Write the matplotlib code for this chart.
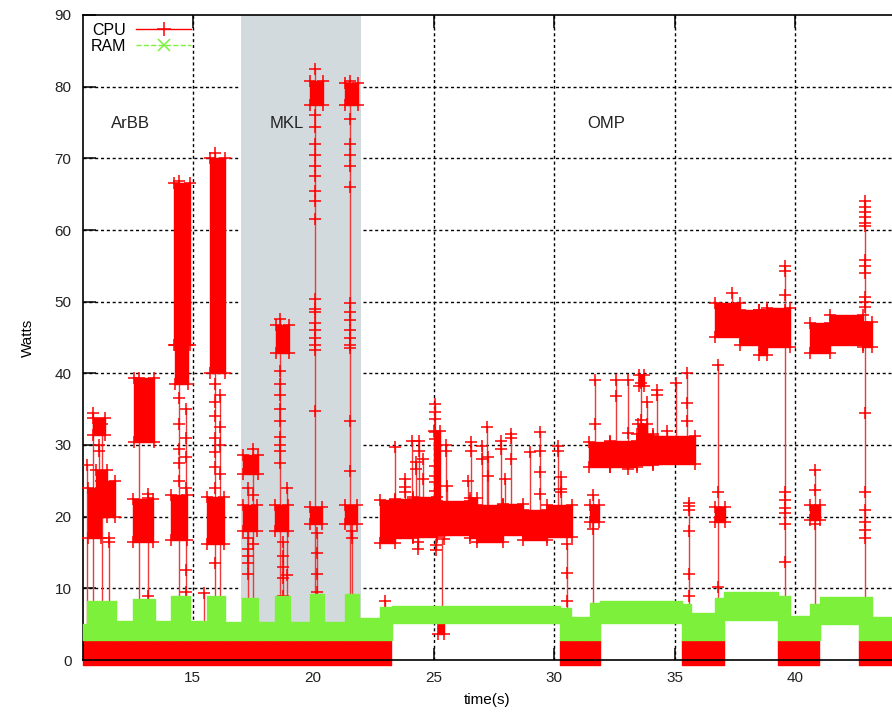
import matplotlib
matplotlib.use('Agg')
import matplotlib.pyplot as plt
from matplotlib.lines import Line2D

plt.rcParams['font.family'] = ['Liberation Sans', 'DejaVu Sans']

# ---------------- data ----------------
# CPU idle periods: (t_start, t_end, low W, high W)
cpu_idle = [
    (10.42, 23.22, -0.7, 2.8),
    (30.24, 31.92, -0.7, 2.8),
    (35.33, 37.05, -0.7, 2.8),
    (39.30, 41.00, -0.7, 2.8),
    (42.65, 44.10, -0.7, 2.8),
]
# CPU short bursts (ArBB / MKL): dense noisy blocks (t_start, t_end, low, high)
cpu_bursts = [
    (10.65, 11.20, 17.0, 24.0), (11.00, 11.45, 20.0, 26.5), (11.20, 11.76, 20.0, 25.0),
    (10.87, 11.35, 31.4, 33.7),
    (12.55, 13.40, 30.4, 39.4), (12.50, 13.35, 16.5, 22.5),
    (14.20, 14.88, 44.0, 66.5), (14.25, 14.80, 38.5, 44.0), (14.10, 14.75, 16.8, 23.0),
    (15.70, 16.33, 40.0, 70.0), (15.60, 16.30, 16.2, 22.8),
    (17.10, 17.70, 26.0, 28.6), (17.08, 17.65, 18.0, 21.6),
    (18.45, 19.00, 42.8, 46.8), (18.40, 18.95, 18.0, 21.6),
    (19.88, 20.40, 77.5, 80.8), (19.88, 20.38, 19.0, 21.4),
    (21.33, 21.85, 77.5, 80.5), (21.31, 21.82, 19.0, 21.6),
]
# CPU long phases (OMP): noisy band pieces (t_start, t_end, low, high)
cpu_phases = [
    (22.77, 23.40, 16.3, 22.3), (23.40, 24.15, 17.0, 22.5), (24.15, 25.12, 17.2, 22.7),
    (25.12, 26.50, 17.5, 22.2), (26.50, 26.78, 17.0, 22.6), (26.78, 27.89, 16.4, 21.6),
    (27.89, 28.72, 17.4, 21.8), (28.72, 29.69, 16.8, 20.9), (29.69, 30.73, 17.2, 21.6),
    (25.00, 25.25, 22.0, 32.0), (25.20, 25.45, 3.6, 5.2),
    (31.50, 31.88, 19.2, 21.6),
    (31.46, 32.32, 27.0, 30.4), (32.32, 33.43, 26.9, 30.6), (33.43, 34.12, 27.2, 31.5),
    (34.12, 35.85, 27.3, 31.2), (33.50, 33.85, 29.5, 33.0), (33.52, 33.72, 38.2, 39.8),
    (36.68, 37.10, 19.3, 21.4),
    (36.68, 37.72, 45.1, 49.8), (37.72, 38.50, 44.0, 48.8), (38.50, 38.82, 42.6, 48.8),
    (38.82, 39.80, 43.7, 49.1),
    (40.62, 41.04, 19.5, 21.6),
    (40.62, 41.45, 42.8, 47.0), (41.45, 42.84, 44.0, 48.1), (42.84, 43.18, 43.7, 47.2),
]
# CPU spikes: (time, line base W, [marker values W])
cpu_spikes = [
    (10.62, 3, [27.2]), (10.86, 3, [34.4]), (11.25, 3, [33.0]), (11.52, 3, [17.0, 16.5]),
    (11.10, 24, [30.0, 29.2]),
    (12.77, 3, [39.4]), (13.14, 3, [23.2, 22.6, 9.0]),
    (14.42, 3, [66.8, 36.5, 33.0, 29.5, 27.5, 25.0]),
    (14.71, 3, [35.0, 31.0, 28.3, 24.0, 12.6, 9.5]), (15.45, 3, [9.3]),
    (15.91, 3, [70.7, 38.5, 36.0, 34.0, 31.0, 29.0, 27.0, 24.0, 13.5]),
    (16.12, 3, [37.0, 32.5, 30.0, 26.0]),
    (17.30, 3, [24.0, 17.0, 15.5, 14.5, 13.6, 12.0]), (17.50, 3, [29.4, 23.0, 16.2]),
    (18.61, 3, [47.6, 40.3, 38.5, 37.0, 35.0, 33.4, 31.1, 30.0, 29.2, 27.5]),
    (18.75, 3, [16.5, 14.5, 13.0, 11.5, 9.0]), (18.90, 9, [24.0, 11.8]),
    (20.07, 3, [82.5, 76.0, 74.4, 72.0, 70.5, 69.0, 67.5, 65.5, 64.0, 61.6,
                50.4, 49.0, 48.5, 47.0, 46.0, 45.0, 44.0, 43.2, 34.7]),
    (20.16, 3, [17.7, 15.0, 12.0, 9.5]),
    (21.52, 3, [80.8, 75.5, 72.0, 70.5, 69.0, 66.0, 49.8, 48.5, 47.5, 46.0,
                45.0, 44.0, 43.6, 33.4, 26.4]),
    (21.63, 3, [18.0, 17.0]),
    (22.97, 3, [8.3]), (23.39, 21, [29.7]), (23.80, 21, [25.3, 24.2, 23.4]),
    (24.10, 21, [30.6]), (24.25, 21, [26.6, 27.6]), (24.40, 21, [29.2, 30.6]),
    (24.35, 18, [16.4, 15.5]), (24.55, 21, [28.0, 25.3]),
    (25.05, 21, [35.7, 34.6, 33.6, 31.8, 30.8, 27.1, 25.7, 24.8, 23.6]),
    (25.10, 18, [16.0, 15.3]), (25.33, 17, [5.5]),
    (25.50, 21, [30.0, 29.2]), (25.45, 18, [16.9]), (25.55, 21, [24.3]),
    (26.43, 21, [25.0]), (26.57, 21, [30.4, 29.2]), (27.00, 21, [29.9, 28.0]),
    (27.20, 21, [32.5]), (27.25, 21, [28.3, 25.7]), (27.80, 21, [30.6, 29.4]),
    (27.95, 21, [25.3]), (28.23, 21, [31.5, 31.0, 28.0]), (29.00, 21, [29.0]),
    (29.40, 21, [31.8, 29.2, 26.2, 23.2]), (30.16, 21, [29.9, 29.2]),
    (30.30, 21, [25.5, 23.9, 23.4]), (30.52, 3, [16.2, 12.2, 8.3]),
    (31.60, 3, [23.0, 18.3]), (31.70, 29, [39.1, 33.0]), (32.57, 29, [39.1, 36.8]),
    (33.08, 29, [39.1, 31.7]), (33.05, 27, [26.6]), (33.60, 29, [38.6, 33.5]),
    (33.85, 29, [36.0]), (34.26, 29, [37.7, 37.0]), (34.70, 29, [32.0]),
    (35.08, 29, [38.6]), (35.50, 29, [40.0, 35.8, 33.3]),
    (35.60, 3, [21.9, 21.5, 21.0, 18.0, 12.0, 9.0]),
    (36.82, 3, [41.2, 23.5, 10.2]), (37.37, 48, [51.2]),
    (39.58, 3, [55.0, 54.3, 51.0, 48.8, 23.5, 22.3, 21.2, 20.5, 19.0, 13.7]),
    (40.83, 3, [26.5, 23.7, 19.0]),
    (42.90, 3, [64.0, 63.2, 62.5, 61.8, 61.0, 60.5, 55.8, 55.0, 54.0, 50.7, 50.0,
                49.2, 34.4, 23.5, 21.0, 19.2, 18.2, 17.0]),
]
# RAM power band: (t_start, t_end, low W, high W)
ram_bands = [
    (10.42, 10.60, 2.8, 5.0), (10.60, 11.80, 2.8, 8.2), (11.80, 12.50, 2.8, 5.5),
    (12.50, 13.45, 2.8, 8.5), (13.45, 14.10, 2.8, 5.4), (14.10, 14.90, 2.8, 9.0),
    (14.90, 15.60, 2.8, 5.4), (15.60, 16.35, 2.8, 9.0), (16.35, 17.05, 2.8, 5.3),
    (17.05, 17.70, 2.8, 8.6), (17.70, 18.40, 2.8, 5.3), (18.40, 19.05, 2.8, 9.0),
    (19.05, 19.85, 2.8, 5.3), (19.85, 20.45, 2.8, 9.2), (20.45, 21.30, 2.8, 5.3),
    (21.30, 21.88, 2.8, 9.2), (21.88, 22.77, 2.8, 5.8), (22.77, 23.25, 2.8, 7.4),
    (23.25, 30.25, 5.2, 7.5), (30.25, 30.70, 2.8, 7.2), (30.70, 31.50, 2.8, 6.0),
    (31.50, 31.92, 2.8, 8.0), (31.92, 35.33, 5.2, 8.2), (35.33, 35.70, 2.8, 7.8),
    (35.70, 36.70, 2.8, 6.6), (36.70, 37.05, 2.8, 8.6), (37.05, 39.30, 5.6, 9.5),
    (39.30, 39.80, 2.8, 9.0), (39.80, 40.62, 2.8, 6.2), (40.62, 41.04, 2.8, 7.8),
    (41.04, 42.65, 5.0, 8.8), (42.65, 43.18, 2.8, 8.8), (43.18, 44.10, 2.8, 6.0),
]
shade_span = (17.0, 22.0)
region_labels = ["ArBB", "MKL", "OMP"]
region_label_t = [12.43, 18.89, 32.15]
region_label_w = [74.9, 74.9, 74.9]
x_ticks = [15, 20, 25, 30, 35, 40]
y_ticks = [0, 10, 20, 30, 40, 50, 60, 70, 80, 90]

# ---------------- drawing ----------------
CPU_C = '#ff0000'
CPU_LINE_C = '#ee3a3a'
RAM_C = '#7df03c'

fig = plt.figure(figsize=(8.92, 7.18), dpi=100)
ax = fig.add_axes([82.5 / 892, 58 / 718, (892 - 82.5) / 892, 645 / 718])
ax.set_xlim(10.42, 44.03)
ax.set_ylim(0, 90)

ax.axvspan(*shade_span, color='#d3dadd', zorder=1, lw=0)

def block(t0, t1, lo, hi, color, z):
    ax.fill_between([t0, t1], [lo, lo], [hi, hi], facecolor=color, edgecolor=color,
                    lw=1.0, zorder=z, clip_on=False)

for t, base, marks in cpu_spikes:
    lo = min([base] + marks)
    hi = max([base] + marks)
    ax.vlines(t, lo, hi, color=CPU_LINE_C, lw=1.0, zorder=2)
for t0, t1, lo, hi in cpu_idle + cpu_bursts + cpu_phases:
    block(t0, t1, lo, hi, CPU_C, 2.5)
# '+' sample markers at the corners of each noisy block (ragged edges)
for t0, t1, lo, hi in cpu_bursts + cpu_phases:
    ax.plot([t0, t1, t0, t1], [lo, lo, hi, hi], ls='none', marker='+', ms=9, mew=1.1,
            color=CPU_C, zorder=3, clip_on=False)
for t, base, marks in cpu_spikes:
    ax.plot([t] * len(marks), marks, ls='none', marker='+', ms=9, mew=1.1,
            color=CPU_C, zorder=3)
for t0, t1, lo, hi in ram_bands:
    block(t0, t1, lo, hi, RAM_C, 4)

for lab, tx, wy in zip(region_labels, region_label_t, region_label_w):
    ax.text(tx, wy, lab, ha='center', va='center', fontsize=12, color='#222222', zorder=5)

ax.set_xticks(x_ticks)
ax.set_yticks(y_ticks)
ax.tick_params(direction='in', length=9, width=1.1, labelsize=11, top=True, right=False,
               pad=8)
for tl in ax.get_xticklabels() + ax.get_yticklabels():
    tl.set_color('#222222')
ax.spines['right'].set_visible(False)
for s in ['left', 'bottom', 'top']:
    ax.spines[s].set_linewidth(1.2)

ax.grid(True, color='black', ls=(0, (2.2, 2.0)), lw=1.0, zorder=0.5)
ax.set_axisbelow(True)
for gl, v in zip(ax.get_ygridlines(), y_ticks):
    if v in (0, 90):
        gl.set_visible(False)

ax.set_xlabel('time(s)', fontsize=11, labelpad=6)
ax.set_ylabel('Watts', fontsize=11, labelpad=14)

handles = [Line2D([], [], color=CPU_C, lw=1.0, marker='+', ms=10, mew=1.1),
           Line2D([], [], color=RAM_C, lw=1.0, ls='--', marker='x', ms=8, mew=1.1)]
ax.legend(handles, ['CPU', 'RAM'], loc='upper left', frameon=False, markerfirst=False,
          fontsize=11.5, handlelength=3.5, borderaxespad=0.2, labelspacing=0.05,
          handletextpad=0.6, borderpad=0.3)

fig.savefig('out.png', dpi=100)
